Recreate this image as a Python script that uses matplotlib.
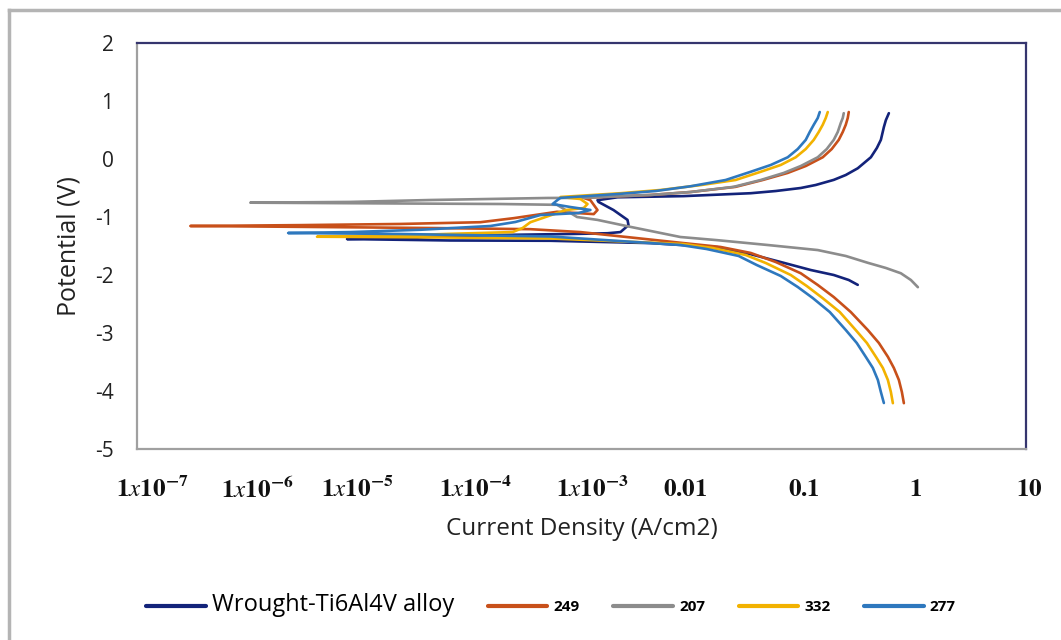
import numpy as np
import matplotlib
matplotlib.use("Agg")
import matplotlib.pyplot as plt
from matplotlib.lines import Line2D
from matplotlib.transforms import ScaledTranslation

plt.rcParams['mathtext.fontset'] = 'stix'

# ---- data: log10(current density, A/cm2) and potential (V) ----
wrought_logi = [-0.234, -0.261, -0.279, -0.306, -0.342, -0.396, -0.468, -0.514, -0.622, -0.730, -0.892,
                -1.027, -1.252, -1.477, -2.081, -2.676, -2.856,
                -2.847, -2.712, -2.586, -2.577, -2.649, -2.766, -3.01, -3.73, -4.63, -5.11,
                -4.18, -3.28, -2.38, -1.775, -1.48, -1.18, -0.937, -0.73, -0.595, -0.514]
wrought_E = [0.79, 0.67, 0.55, 0.33, 0.19, 0.03, -0.086, -0.16, -0.276, -0.36, -0.448,
             -0.50, -0.552, -0.59, -0.64, -0.66, -0.71,
             -0.74, -0.88, -1.05, -1.14, -1.26, -1.28, -1.29, -1.31, -1.36, -1.38,
             -1.405, -1.41, -1.45, -1.52, -1.64, -1.79, -1.914, -2.00, -2.086, -2.17]

s249_logi = [-0.595, -0.604, -0.622, -0.649, -0.685, -0.748, -0.829, -0.982, -1.144, -1.369, -1.613,
             -2.018, -2.378, -2.982, -2.92, -2.856, -2.89,
             -3.22, -3.61, -3.91, -4.63, -5.53, -6.52, -5.53, -4.36, -3.46, -3.01,
             -2.081, -1.748, -1.477, -1.252, -1.027, -0.874, -0.730, -0.577, -0.423, -0.324,
             -0.243, -0.189, -0.144, -0.117, -0.099]
s249_E = [0.81, 0.707, 0.59, 0.466, 0.33, 0.172, 0.03, -0.121, -0.24, -0.362, -0.48,
          -0.569, -0.62, -0.67, -0.71, -0.88, -0.95,
          -0.91, -1.02, -1.09, -1.12, -1.14, -1.155, -1.17, -1.19, -1.21, -1.26,
          -1.45, -1.517, -1.62, -1.776, -1.97, -2.172, -2.38, -2.638, -2.95, -3.172,
          -3.41, -3.603, -3.81, -4.017, -4.21]

s207_logi = [-0.640, -0.649, -0.667, -0.694, -0.730, -0.793, -0.874, -1.027, -1.180, -1.387, -1.631,
             -2.018, -2.378, -2.982, -3.306, -4.36, -5.08, -5.98,
             -4.63, -3.73, -3.22, -3.04, -2.856, -2.56, -2.11, -1.775, -1.324, -0.874, -0.622,
             -0.423, -0.261, -0.126, -0.036, 0.027]
s207_E = [0.79, 0.707, 0.62, 0.466, 0.33, 0.172, 0.03, -0.121, -0.24, -0.362, -0.48,
          -0.569, -0.62, -0.67, -0.672, -0.707, -0.74, -0.753,
          -0.767, -0.776, -0.79, -1.00, -1.05, -1.17, -1.345, -1.40, -1.483, -1.57, -1.672,
          -1.79, -1.879, -1.97, -2.086, -2.21]

s332_logi = [-0.784, -0.802, -0.829, -0.865, -0.91, -0.982, -1.072, -1.207, -1.387, -1.613, -1.928,
             -2.288, -2.649, -3.189, -3.01, -2.946, -2.98, -3.14,
             -3.46, -3.53, -3.62, -4.18, -4.81, -5.38, -4.45, -3.28,
             -2.081, -1.82, -1.523, -1.342, -1.117, -0.973, -0.829, -0.676, -0.532, -0.432,
             -0.351, -0.288, -0.243, -0.216, -0.198]
s332_E = [0.81, 0.707, 0.59, 0.466, 0.33, 0.172, 0.03, -0.103, -0.22, -0.362, -0.45,
          -0.534, -0.59, -0.655, -0.69, -0.776, -0.845, -0.88,
          -1.09, -1.19, -1.26, -1.29, -1.33, -1.34, -1.35, -1.37,
          -1.466, -1.534, -1.655, -1.793, -2.00, -2.19, -2.40, -2.638, -2.95, -3.172,
          -3.41, -3.603, -3.81, -4.017, -4.21]

s277_logi = [-0.856, -0.874, -0.91, -0.946, -0.982, -1.054, -1.144, -1.297, -1.477, -1.703, -2.018,
             -2.333, -2.649, -3.189, -3.216, -3.26, -3.10, -2.92,
             -3.027, -3.37, -3.595, -3.82, -4.45, -5.08, -5.64, -4.63, -3.28,
             -2.108, -1.874, -1.586, -1.423, -1.207, -1.054, -0.919, -0.766, -0.622, -0.523,
             -0.441, -0.378, -0.333, -0.306, -0.279]
s277_E = [0.81, 0.707, 0.59, 0.466, 0.33, 0.172, 0.03, -0.103, -0.22, -0.362, -0.47,
          -0.552, -0.60, -0.67, -0.707, -0.776, -0.828, -0.879,
          -0.931, -0.966, -1.086, -1.155, -1.22, -1.26, -1.276, -1.293, -1.336,
          -1.483, -1.552, -1.672, -1.828, -2.017, -2.207, -2.397, -2.638, -2.948, -3.172,
          -3.414, -3.603, -3.81, -4.017, -4.207]

series_names = ['Wrought-Ti6Al4V alloy', '249', '207', '332', '277']
series_logi = [wrought_logi, s249_logi, s207_logi, s332_logi, s277_logi]
series_E = [wrought_E, s249_E, s207_E, s332_E, s277_E]
colors = ['#13237a', '#c8501a', '#8c8c8c', '#f2b200', '#2e78be']

x_ticks = [1e-7, 1e-6, 1e-5, 1e-4, 1e-3, 1e-2, 1e-1, 1, 10]
x_ticklabels = [r'$\mathbf{1}\mathit{x}\mathbf{10^{-7}}$', r'$\mathbf{1}\mathit{x}\mathbf{10^{-6}}$',
                r'$\mathbf{1}\mathit{x}\mathbf{10^{-5}}$', r'$\mathbf{1}\mathit{x}\mathbf{10^{-4}}$',
                r'$\mathbf{1}\mathit{x}\mathbf{10^{-3}}$', r'$\mathbf{0.01}$', r'$\mathbf{0.1}$',
                r'$\mathbf{1}$', r'$\mathbf{10}$']
label_nudge_px = [15, 9, -2, 5, 11, -8, 0, 1, 3]
y_ticks = [-5, -4, -3, -2, -1, 0, 1, 2]

# ---- figure ----
W, H = 1061, 640
fig = plt.figure(figsize=(W / 100, H / 100), dpi=100)
ax = fig.add_axes([137 / W, 1 - 449 / H, (1026 - 137) / W, (449 - 43) / H])

for logi, E, c, name in zip(series_logi, series_E, colors, series_names):
    ax.plot(10 ** np.array(logi), E, color=c, lw=1.9, label=name,
            solid_joinstyle='round', solid_capstyle='round')

ax.set_xscale('log')
ax.set_xlim(1e-7, 10)
ax.set_ylim(-5, 2)
ax.set_xticks(x_ticks)
ax.set_xticklabels(x_ticklabels)
ax.xaxis.set_minor_locator(matplotlib.ticker.NullLocator())
ax.set_yticks(y_ticks)
ax.set_yticklabels([str(v) for v in y_ticks])
ax.tick_params(axis='x', length=0, pad=20, labelsize=18, labelcolor='#111111')
ax.tick_params(axis='y', length=0, pad=17, labelsize=15, labelcolor='#222222')
for lab in ax.get_yticklabels():
    lab.set_family('Open Sans')

for lab, dx in zip(ax.get_xticklabels(), label_nudge_px):
    lab.set_transform(lab.get_transform() + ScaledTranslation(dx / 100, 0, fig.dpi_scale_trans))

for side in ['left', 'bottom']:
    ax.spines[side].set_color('#a0a0a0')
    ax.spines[side].set_linewidth(1.6)
for side in ['top', 'right']:
    ax.spines[side].set_color('#35356e')
    ax.spines[side].set_linewidth(1.6)

ax.set_xlabel('Current Density (A/cm2)', fontsize=17.5, family='Open Sans', color='#222222')
ax.xaxis.set_label_coords(0.5, -0.167)
ax.set_ylabel('Potential (V)', fontsize=18, family='Open Sans', color='#222222')
ax.yaxis.set_label_coords(-0.062, 0.5)

leg = fig.legend(loc='center', bbox_to_anchor=(551 / W, 1 - 605 / H), ncol=5, frameon=False,
                 fontsize=11, handlelength=3.9, handletextpad=0.4, columnspacing=2.2)
for i, t in enumerate(leg.get_texts()):
    if i == 0:
        t.set_fontsize(17)
        t.set_family('Open Sans')
    else:
        t.set_family('Open Sans')
        t.set_fontweight('bold')
for h in leg.get_lines():
    h.set_linewidth(3)

# outer frame
fig.add_artist(Line2D([9 / W, 9 / W], [0, 1 - 10 / H], color='#b4b4b4', lw=2.5, transform=fig.transFigure))
fig.add_artist(Line2D([9 / W, 1], [1 - 10 / H, 1 - 10 / H], color='#b4b4b4', lw=2.5, transform=fig.transFigure))

fig.savefig('out.png', dpi=100)
